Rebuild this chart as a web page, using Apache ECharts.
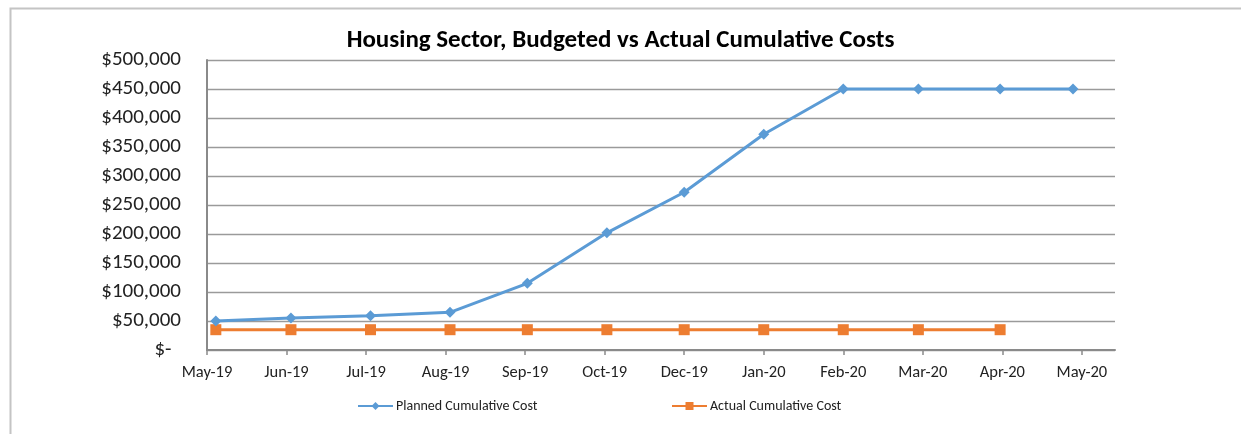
<!DOCTYPE html>
<html>
<head>
<meta charset="utf-8">
<script src="https://cdn.jsdelivr.net/npm/echarts@6/dist/echarts.min.js"></script>
<style>
  html, body { margin: 0; padding: 0; background: #fff; }
  #chart { width: 1241px; height: 434px; }
</style>
</head>
<body>
<div id="chart"></div>
<script>
  // dates of each data point
  const pointDates = ['2019-05-05', '2019-06-08', '2019-07-14', '2019-08-19', '2019-09-23', '2019-10-29',
    '2019-12-03', '2020-01-08', '2020-02-13', '2020-03-18', '2020-04-24', '2020-05-27']
  const plannedCost = [50000, 55000, 59000, 65000, 115000, 202000, 272000, 372000, 450000, 450000, 450000, 450000]
  const actualCost = [35000, 35000, 35000, 35000, 35000, 35000, 35000, 35000, 35000, 35000, 35000]

  // date axis: starts 1 May 2019, major unit 36 days
  const axisStart = '2019-05-01'
  const axisDays = 411
  const majorDays = 36
  const tickLabels = ['May-19', 'Jun-19', 'Jul-19', 'Aug-19', 'Sep-19', 'Oct-19', 'Dec-19', 'Jan-20', 'Feb-20', 'Mar-20', 'Apr-20', 'May-20']
  const yTicks = [0, 50000, 100000, 150000, 200000, 250000, 300000, 350000, 400000, 450000, 500000]

  const DAY = 86400000
  const dayOf = (s) => Math.round((Date.parse(s + 'T00:00:00Z') - Date.parse(axisStart + 'T00:00:00Z')) / DAY)
  const tickDays = tickLabels.map((l, i) => i * majorDays)

  const font = "Carlito, 'Liberation Sans', Arial, sans-serif"
  const textColor = '#222'

  function money(v) {
    if (v === 0) return '$-  '
    return '$' + v.toLocaleString('en-US')
  }

  const chart = echarts.init(document.getElementById('chart'))
  chart.setOption({
    animation: false,
    backgroundColor: '#fff',
    title: {
      text: 'Housing Sector, Budgeted vs Actual Cumulative Costs',
      left: 'center',
      top: 28,
      padding: 0,
      textStyle: { fontFamily: font, fontSize: 25, fontWeight: 'bold', color: '#000' },
    },
    graphic: [
      {
        type: 'rect',
        left: 8,
        top: 6,
        shape: { width: 1300, height: 500 },
        style: { fill: 'none', stroke: '#c4c4c4', lineWidth: 2 },
        silent: true,
      },
    ],
    legend: [
      {
        data: ['Planned Cumulative Cost'],
        left: 357,
        top: 399,
        padding: 0,
        itemWidth: 35,
        itemHeight: 10,
        textStyle: { fontFamily: font, fontSize: 14, color: textColor, padding: [0, 0, 0, -2] },
      },
      {
        data: ['Actual Cumulative Cost'],
        left: 671,
        top: 399,
        padding: 0,
        itemWidth: 35,
        itemHeight: 10,
        textStyle: { fontFamily: font, fontSize: 14, color: textColor, padding: [0, 0, 0, -2] },
      },
    ],
    grid: { left: 207, right: 126, top: 60, bottom: 84, containLabel: false },
    xAxis: {
      type: 'value',
      min: 0,
      max: axisDays,
      interval: majorDays,
      axisLine: { lineStyle: { color: '#8a8a8a', width: 2 } },
      axisTick: { show: true, length: 5, customValues: tickDays, lineStyle: { color: '#8a8a8a', width: 1.5 } },
      splitLine: { show: false },
      axisLabel: {
        customValues: tickDays,
        margin: 14,
        fontFamily: font,
        fontSize: 16.5,
        color: textColor,
        formatter: (v) => {
          const i = tickDays.indexOf(v)
          return i >= 0 ? tickLabels[i] : ''
        },
      },
    },
    yAxis: {
      type: 'value',
      min: 0,
      max: 500000,
      interval: 50000,
      axisLine: { show: true, lineStyle: { color: '#8a8a8a', width: 2 } },
      axisTick: { show: false },
      splitLine: { lineStyle: { color: '#9a9a9a', width: 1.3 } },
      axisLabel: {
        margin: 26,
        fontFamily: font,
        fontSize: 21,
        color: textColor,
        formatter: (v) => (yTicks.includes(v) ? money(v) : ''),
      },
    },
    series: [
      {
        name: 'Planned Cumulative Cost',
        type: 'line',
        data: plannedCost.map((v, i) => [dayOf(pointDates[i]), v]),
        symbol: 'diamond',
        symbolSize: 11,
        lineStyle: { color: '#5B9BD5', width: 3 },
        itemStyle: { color: '#5B9BD5' },
        z: 3,
      },
      {
        name: 'Actual Cumulative Cost',
        type: 'line',
        data: actualCost.map((v, i) => [dayOf(pointDates[i]), v]),
        symbol: 'rect',
        symbolSize: 11,
        lineStyle: { color: '#ED7D31', width: 3 },
        itemStyle: { color: '#ED7D31' },
        z: 2,
      },
    ],
  })
</script>
</body>
</html>
